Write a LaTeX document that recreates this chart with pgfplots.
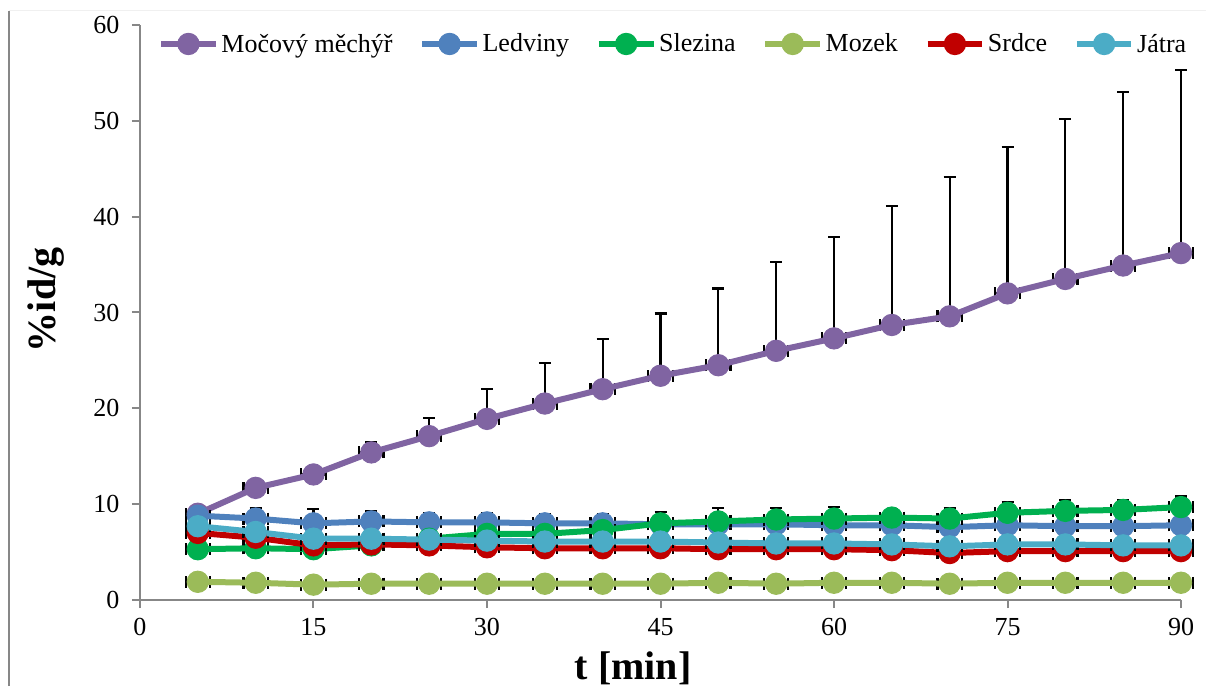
\documentclass[border=0pt]{standalone}
\usepackage{fontspec}
\setmainfont{Liberation Serif}
\usepackage{pgfplots}
\usepackage{pgfplotstable}
\pgfplotsset{compat=1.18}
\definecolor{cPur}{HTML}{8064A2}
\definecolor{cBlu}{HTML}{4F81BD}
\definecolor{cGrn}{HTML}{00B050}
\definecolor{cLgr}{HTML}{9BBB59}
\definecolor{cRed}{HTML}{C00000}
\definecolor{cCya}{HTML}{4BACC6}
\definecolor{axgray}{HTML}{878787}

\pgfplotstableread{
t  mv   me   lv   le   sv   se   zv   ze   rv   re   jv   je
5  9.0  0.5  8.8  0.5  5.3  0.5  1.9  0.5  7.0  0.5  7.7  0.5
10 11.7 0.6  8.5  1.1  5.4  0.5  1.8  0.5  6.5  0.5  7.1  0.5
15 13.1 0.8  8.0  1.5  5.3  0.5  1.6  0.5  5.7  0.5  6.4  0.5
20 15.4 1.1  8.2  1.1  5.7  0.5  1.7  0.5  5.8  0.5  6.4  0.5
25 17.1 1.9  8.1  1.0  6.4  0.5  1.7  0.5  5.7  0.5  6.3  0.5
30 18.9 3.1  8.1  1.0  6.9  0.5  1.7  0.5  5.5  0.5  6.2  0.5
35 20.5 4.2  8.0  1.0  6.9  0.5  1.7  0.5  5.4  0.5  6.1  0.5
40 22.0 5.2  8.0  1.0  7.3  0.5  1.7  0.5  5.4  0.5  6.1  0.5
45 23.4 6.5  7.9  0.5  8.0  1.2  1.7  0.5  5.4  0.5  6.1  0.5
50 24.5 8.0  7.9  0.5  8.2  1.4  1.8  0.5  5.3  0.5  6.0  0.5
55 26.0 9.3  7.9  0.5  8.4  1.2  1.7  0.5  5.3  0.5  5.9  0.5
60 27.3 10.6 7.8  0.5  8.5  1.2  1.8  0.5  5.3  0.5  5.9  0.5
65 28.7 12.4 7.8  0.5  8.6  0.9  1.8  0.5  5.2  0.5  5.8  0.5
70 29.6 14.5 7.6  0.5  8.5  1.1  1.7  0.5  4.9  0.5  5.6  0.5
75 32.0 15.3 7.8  0.5  9.1  1.1  1.8  0.5  5.1  0.5  5.8  0.5
80 33.5 16.7 7.7  0.5  9.3  1.1  1.8  0.5  5.1  0.5  5.8  0.5
85 34.9 18.1 7.7  0.5  9.4  1.0  1.8  0.5  5.1  0.5  5.7  0.5
90 36.2 19.1 7.8  0.5  9.7  1.1  1.8  0.5  5.1  0.5  5.7  0.5
}\data

\pgfplotsset{
  ebar/.style={draw=none, mark=none, forget plot, line width=1.6pt,
    error bars/.cd, y dir=plus, y explicit, x dir=both, x fixed=1.05,
    error bar style={draw=black, line width=1.6pt},
    error mark options={rotate=90, draw=black, line width=1.6pt, mark size=4.5pt}},
  ser/.style={color=#1, line width=4.5pt, mark=*, mark size=8pt,
    mark options={solid, fill=#1, draw=#1, line width=0.75pt}},
}

\begin{document}
\begin{tikzpicture}
\useasboundingbox (-105pt,-64.5pt) rectangle (799.5pt,450pt);
\draw[axgray, line width=1pt] (-98.25pt,-64.5pt) -- (-98.25pt,441.75pt);
\draw[gray!12, line width=0.75pt] (-98.25pt,441.75pt) -- (799.5pt,441.75pt);
\begin{axis}[
  at={(0,0)}, anchor=south west,
  scale only axis, width=780.75pt, height=431.25pt,
  xmin=0, xmax=90, ymin=0, ymax=60,
  xtick={0,15,...,90}, ytick={0,10,...,60},
  axis x line*=bottom, axis y line*=left,
  axis line style={axgray, line width=1.5pt, -},
  tick style={axgray, line width=1.5pt},
  tick align=outside, major tick length=6pt,
  minor tick num=0,
  /pgf/number format/assume math mode=true,
  ticklabel style={font=\fontsize{19.5}{22}\selectfont, text=black},
  xticklabel style={yshift=-4pt},
  yticklabel style={xshift=-6pt},
  clip=false,
  xlabel={\textbf{t [min]}},
  ylabel={\textbf{\%id/g}},
  xlabel style={font=\fontsize{30}{34}\selectfont, at={(axis description cs:0.4736,-0.118)}, anchor=center},
  ylabel style={font=\fontsize{30}{34}\selectfont, at={(axis description cs:-0.0903,0.522)}, anchor=center, rotate=0},
  legend style={at={(axis description cs:0.5125,0.967)}, anchor=center, draw=none, fill=none,
    legend columns=6, font=\fontsize{19.5}{22}\selectfont,
    /tikz/every even column/.append style={column sep=18pt},
    nodes={inner xsep=2pt}},
  legend image code/.code={\draw[mark repeat=2, mark phase=2, #1] plot coordinates {(0pt,0pt) (20.5pt,0pt) (41pt,0pt)};},
]
\addplot[ebar] table[x=t, y=mv, y error=me] {\data};
\addplot[ser=cPur] table[x=t, y=mv] {\data};
\addlegendentry{Močový měchýř}
\addplot[ebar] table[x=t, y=lv, y error=le] {\data};
\addplot[ser=cBlu] table[x=t, y=lv] {\data};
\addlegendentry{Ledviny}
\addplot[ebar] table[x=t, y=sv, y error=se] {\data};
\addplot[ser=cGrn] table[x=t, y=sv] {\data};
\addlegendentry{Slezina}
\addplot[ebar] table[x=t, y=zv, y error=ze] {\data};
\addplot[ser=cLgr] table[x=t, y=zv] {\data};
\addlegendentry{Mozek}
\addplot[ebar] table[x=t, y=rv, y error=re] {\data};
\addplot[ser=cRed] table[x=t, y=rv] {\data};
\addlegendentry{Srdce}
\addplot[ebar] table[x=t, y=jv, y error=je] {\data};
\addplot[ser=cCya] table[x=t, y=jv] {\data};
\addlegendentry{Játra}
\end{axis}
\end{tikzpicture}
\end{document}
